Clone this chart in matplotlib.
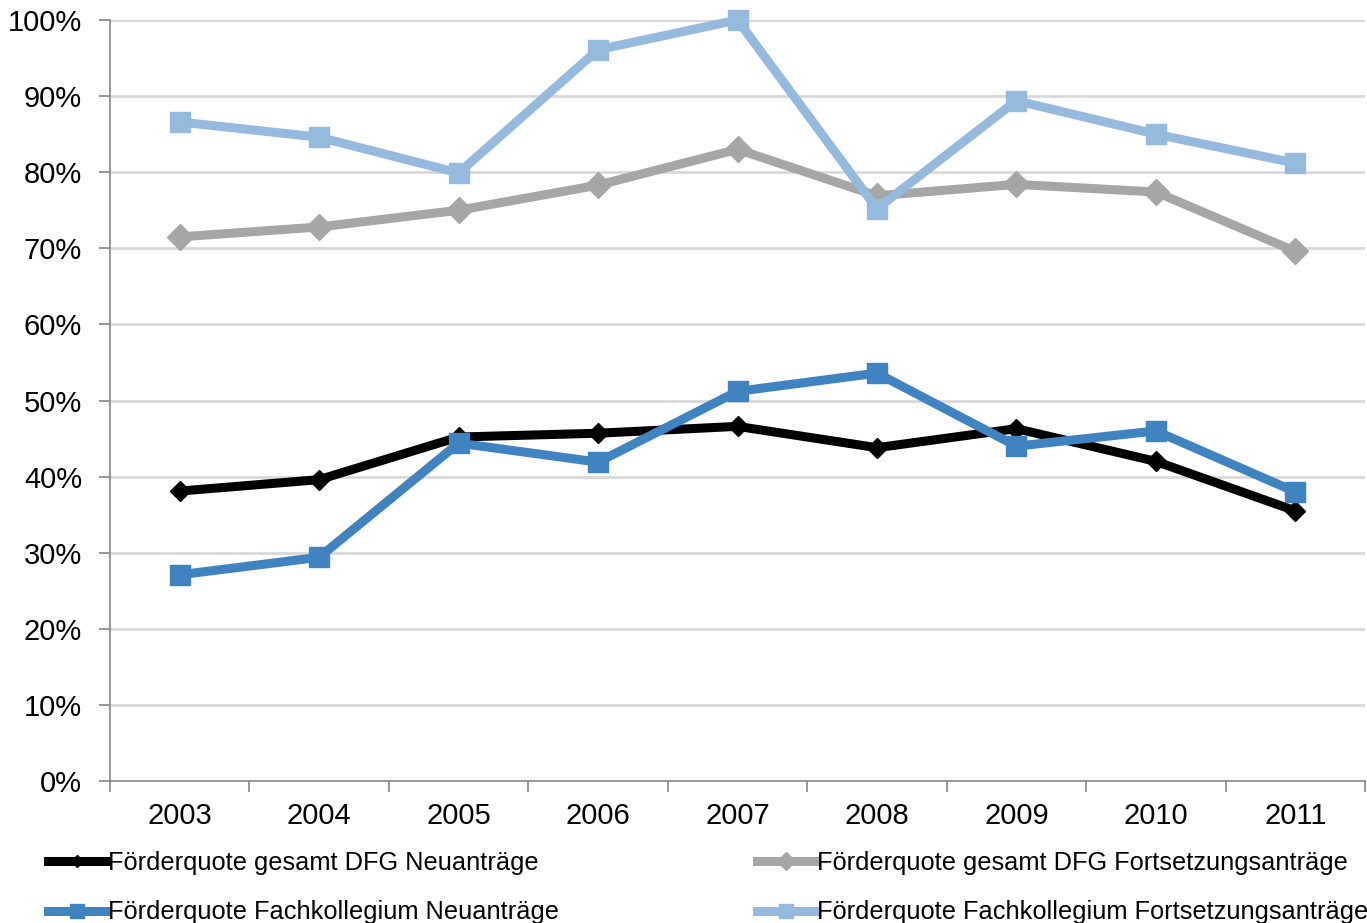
import matplotlib
matplotlib.use("Agg")
import matplotlib.pyplot as plt
from matplotlib.ticker import FuncFormatter, FixedLocator

plt.rcParams['font.family'] = ['Liberation Sans', 'DejaVu Sans']

years = ["2003", "2004", "2005", "2006", "2007", "2008", "2009", "2010", "2011"]
gesamt_neu = [38.1, 39.6, 45.2, 45.7, 46.6, 43.8, 46.3, 42.0, 35.5]
gesamt_fort = [71.5, 72.8, 75.0, 78.3, 83.0, 76.9, 78.4, 77.4, 69.6]
fach_neu = [27.1, 29.4, 44.4, 41.9, 51.2, 53.6, 44.0, 46.0, 38.0]
fach_fort = [86.6, 84.6, 79.9, 96.1, 100.0, 75.2, 89.4, 85.0, 81.2]

labels = [
    "Förderquote gesamt DFG Neuanträge",
    "Förderquote gesamt DFG Fortsetzungsanträge",
    "Förderquote Fachkollegium Neuanträge",
    "Förderquote Fachkollegium Fortsetzungsanträge",
]

fig = plt.figure(figsize=(13.67, 9.23), dpi=100)
ax = fig.add_axes([110 / 1367, 142 / 923, 1255 / 1367, 761 / 923])

x = list(range(len(years)))
lw = 6.5
h1, = ax.plot(x, gesamt_neu, color="#000000", lw=lw, marker="D", ms=10,
              label=labels[0], zorder=3, clip_on=False)
h2, = ax.plot(x, gesamt_fort, color="#A6A6A6", lw=lw, marker="D", ms=13.5,
              label=labels[1], zorder=3, clip_on=False)
h3, = ax.plot(x, fach_neu, color="#3F84C1", lw=lw, marker="s", ms=14.5,
              label=labels[2], zorder=4, clip_on=False)
h4, = ax.plot(x, fach_fort, color="#95BADD", lw=lw, marker="s", ms=14.5,
              label=labels[3], zorder=4, clip_on=False)

ax.set_xlim(-0.5, len(years) - 0.5)
ax.set_ylim(0, 100)
ax.set_yticks(range(0, 101, 10))
ax.yaxis.set_major_formatter(FuncFormatter(lambda v, p: f"{int(v)}%"))
ax.set_xticks(x)
ax.set_xticklabels(years)
ax.xaxis.set_minor_locator(FixedLocator([i - 0.5 for i in range(len(years) + 1)]))
ax.tick_params(axis="x", which="major", length=0, pad=15, labelsize=21)
ax.tick_params(axis="x", which="minor", length=8, width=1.2, color="#868686")
ax.tick_params(axis="y", length=8, width=1.2, color="#868686", pad=12, labelsize=21)

for v in range(10, 101, 10):
    ax.axhline(v, color="#D9D9D9", lw=2, zorder=1)

for side in ("top", "right"):
    ax.spines[side].set_visible(False)
for side in ("left", "bottom"):
    ax.spines[side].set_color("#868686")
    ax.spines[side].set_linewidth(1.2)

fig.legend([h1, h3, h2, h4], [labels[0], labels[2], labels[1], labels[3]],
           ncol=2, loc="upper left", bbox_to_anchor=(48 / 1367, 1 - 851 / 923),
           frameon=False, fontsize=18.3, handlelength=2.3, handletextpad=0.05,
           columnspacing=7.8, labelspacing=1.0, borderpad=0, borderaxespad=0,
           markerscale=0.65)

fig.savefig("out.png", dpi=100)
